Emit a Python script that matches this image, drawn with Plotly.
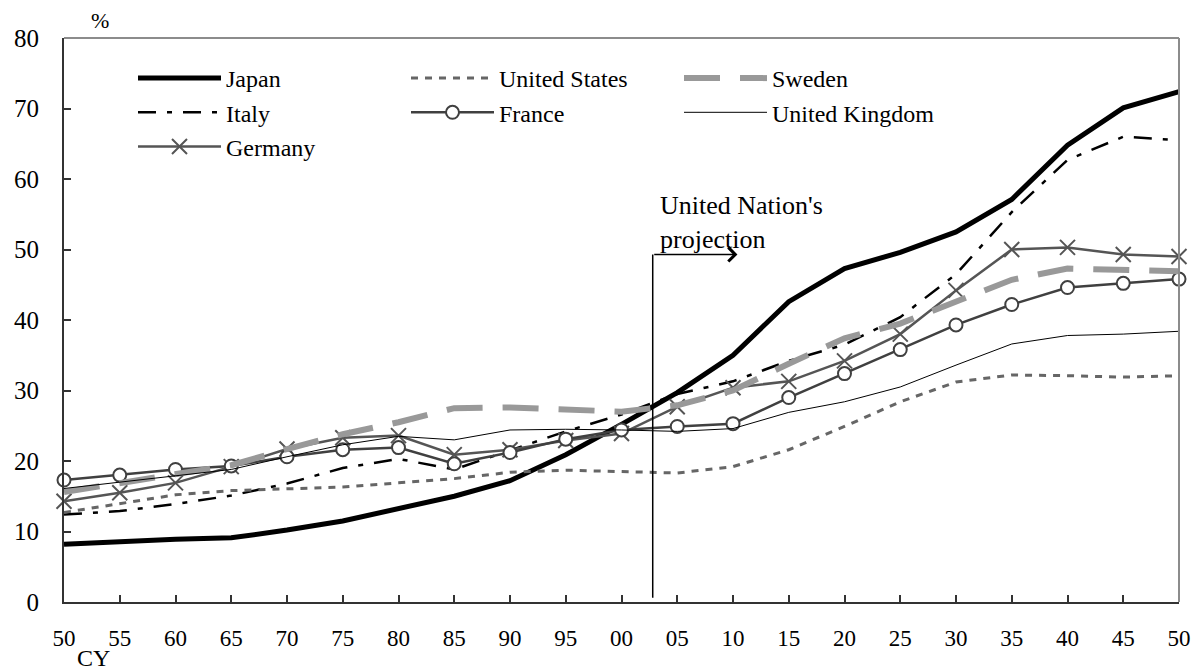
import plotly.graph_objects as go

years = [1950, 1955, 1960, 1965, 1970, 1975, 1980, 1985, 1990, 1995, 2000,
         2005, 2010, 2015, 2020, 2025, 2030, 2035, 2040, 2045, 2050]
tick_labels = ["50", "55", "60", "65", "70", "75", "80", "85", "90", "95", "00",
               "05", "10", "15", "20", "25", "30", "35", "40", "45", "50"]

japan = [8.2, 8.6, 8.9, 9.1, 10.2, 11.5, 13.3, 15.0, 17.2, 20.9, 25.2,
         29.7, 35.0, 42.6, 47.3, 49.6, 52.5, 57.1, 64.8, 70.1, 72.4]
united_states = [12.7, 13.9, 15.2, 15.8, 16.0, 16.3, 16.9, 17.5, 18.4, 18.7, 18.5,
                 18.3, 19.2, 21.6, 24.9, 28.4, 31.2, 32.2, 32.1, 31.9, 32.1]
sweden = [15.6, 16.8, 18.1, 19.4, 21.7, 23.8, 25.5, 27.5, 27.6, 27.4, 27.0,
          27.9, 30.0, 33.8, 37.4, 39.5, 42.6, 45.7, 47.3, 47.0, 46.9]
italy = [12.4, 12.9, 13.9, 15.1, 16.8, 19.0, 20.3, 18.8, 21.5, 24.2, 26.6,
         29.5, 31.3, 34.2, 36.5, 40.4, 46.5, 55.3, 62.7, 66.0, 65.5]
france = [17.3, 18.0, 18.8, 19.3, 20.6, 21.6, 21.9, 19.6, 21.2, 23.1, 24.4,
          24.9, 25.3, 29.0, 32.4, 35.8, 39.3, 42.2, 44.6, 45.2, 45.8]
united_kingdom = [16.1, 17.0, 18.0, 18.8, 20.6, 22.3, 23.5, 23.0, 24.4, 24.5, 24.4,
                  24.2, 24.6, 26.9, 28.4, 30.5, 33.6, 36.6, 37.8, 38.0, 38.4]
germany = [14.3, 15.5, 16.9, 19.2, 21.7, 23.3, 23.6, 20.9, 21.6, 22.9, 23.9,
           27.7, 30.4, 31.3, 34.2, 38.0, 44.2, 50.0, 50.3, 49.3, 49.0]

projection_year = 2002.8
projection_top = 49.3
arrow_end_year = 2010.4

FONT = "Liberation Serif, Times New Roman, serif"

fig = go.Figure()

def add(name, y, legend, color, width, dash="solid", marker=None, group=None):
    kw = dict(x=years, y=y, name=name, legend=legend, legendgroup=group or name,
              line=dict(color=color, width=width, dash=dash), cliponaxis=False)
    if marker:
        kw["mode"] = "lines+markers"
        kw["marker"] = marker
    else:
        kw["mode"] = "lines"
    fig.add_trace(go.Scatter(**kw))

add("Japan", japan, "legend", "#000000", 5)
add("Italy", italy, "legend", "#000000", 2.5, dash="18px,11px,5px,11px")
add("Germany", germany, "legend", "#555555", 2.5,
    marker=dict(symbol="x-thin-open", size=15, line=dict(color="#555555", width=2)))
add("United States", united_states, "legend2", "#666666", 3, dash="7px,7px")
add("France", france, "legend2", "#404040", 2.5,
    marker=dict(symbol="circle", size=13, color="white", line=dict(color="#404040", width=2)))
add("Sweden", sweden, "legend3", "#999999", 6, dash="36px,20px")
add("United Kingdom", united_kingdom, "legend3", "#000000", 1)

# plot area: x 64..1179, y 38..602
def px_x(p):
    return (p - 64) / 1115.0

def px_y(p):
    return 1 - (p - 38) / 564.0

leg_common = dict(bgcolor="rgba(0,0,0,0)", font=dict(family=FONT, size=24, color="black"),
                  traceorder="grouped", tracegroupgap=0, itemwidth=83,
                  xanchor="left", yanchor="top", itemclick=False, itemdoubleclick=False)

fig.update_layout(
    width=1202, height=670,
    margin=dict(l=64, r=23, t=38, b=68),
    paper_bgcolor="white", plot_bgcolor="white",
    font=dict(family=FONT, size=23, color="black"),
    showlegend=True,
    legend=dict(x=px_x(133), y=px_y(56), **leg_common),
    legend2=dict(x=px_x(406), y=px_y(56), **leg_common),
    legend3=dict(x=px_x(679), y=px_y(56), **leg_common),
    xaxis=dict(range=[1950, 2050], tickmode="array", tickvals=years, ticktext=tick_labels,
               ticks="inside", ticklen=7, tickwidth=1.5, tickcolor="#333333",
               showline=True, linewidth=2, linecolor="#333333",
               showgrid=False, zeroline=False, ticklabelstandoff=14,
               tickfont=dict(family=FONT, size=23, color="black")),
    yaxis=dict(range=[0, 80], dtick=10, tick0=0,
               ticks="inside", ticklen=7, tickwidth=1.5, tickcolor="#333333",
               showline=True, linewidth=2, linecolor="#333333",
               showgrid=False, zeroline=False, ticklabelstandoff=18,
               tickfont=dict(family=FONT, size=25, color="black")),
)

# top and right frame lines (gray)
fig.add_shape(type="line", xref="paper", yref="paper", x0=0, x1=1, y0=1, y1=1,
              line=dict(color="#8c8c8c", width=2))
fig.add_shape(type="line", xref="paper", yref="paper", x0=1, x1=1, y0=0, y1=1,
              line=dict(color="#8c8c8c", width=2))

# projection marker
fig.add_shape(type="line", xref="x", yref="y", x0=projection_year, x1=projection_year,
              y0=0.6, y1=projection_top, line=dict(color="black", width=1.5))
fig.add_annotation(x=arrow_end_year, y=projection_top, ax=projection_year, ay=projection_top,
                   axref="x", ayref="y", xref="x", yref="y", text="",
                   showarrow=True, arrowhead=4, arrowsize=1.8, arrowwidth=1.5,
                   arrowcolor="black", standoff=0, startstandoff=0)
fig.add_annotation(x=2003.3, y=53.8, xref="x", yref="y", xanchor="left", yanchor="middle",
                   align="left", showarrow=False,
                   text="United Nation's<br>projection",
                   font=dict(family=FONT, size=26, color="black"))

fig.add_annotation(x=px_x(100), y=px_y(21), xref="paper", yref="paper", text="%",
                   xanchor="center", yanchor="middle", showarrow=False,
                   font=dict(family=FONT, size=22, color="black"))
fig.add_annotation(x=px_x(93), y=px_y(658), xref="paper", yref="paper", text="CY",
                   xanchor="center", yanchor="middle", showarrow=False,
                   font=dict(family=FONT, size=24, color="black"))

fig.write_html("out.html", config={"displayModeBar": False},
               post_script="document.body.style.margin='0px';")
